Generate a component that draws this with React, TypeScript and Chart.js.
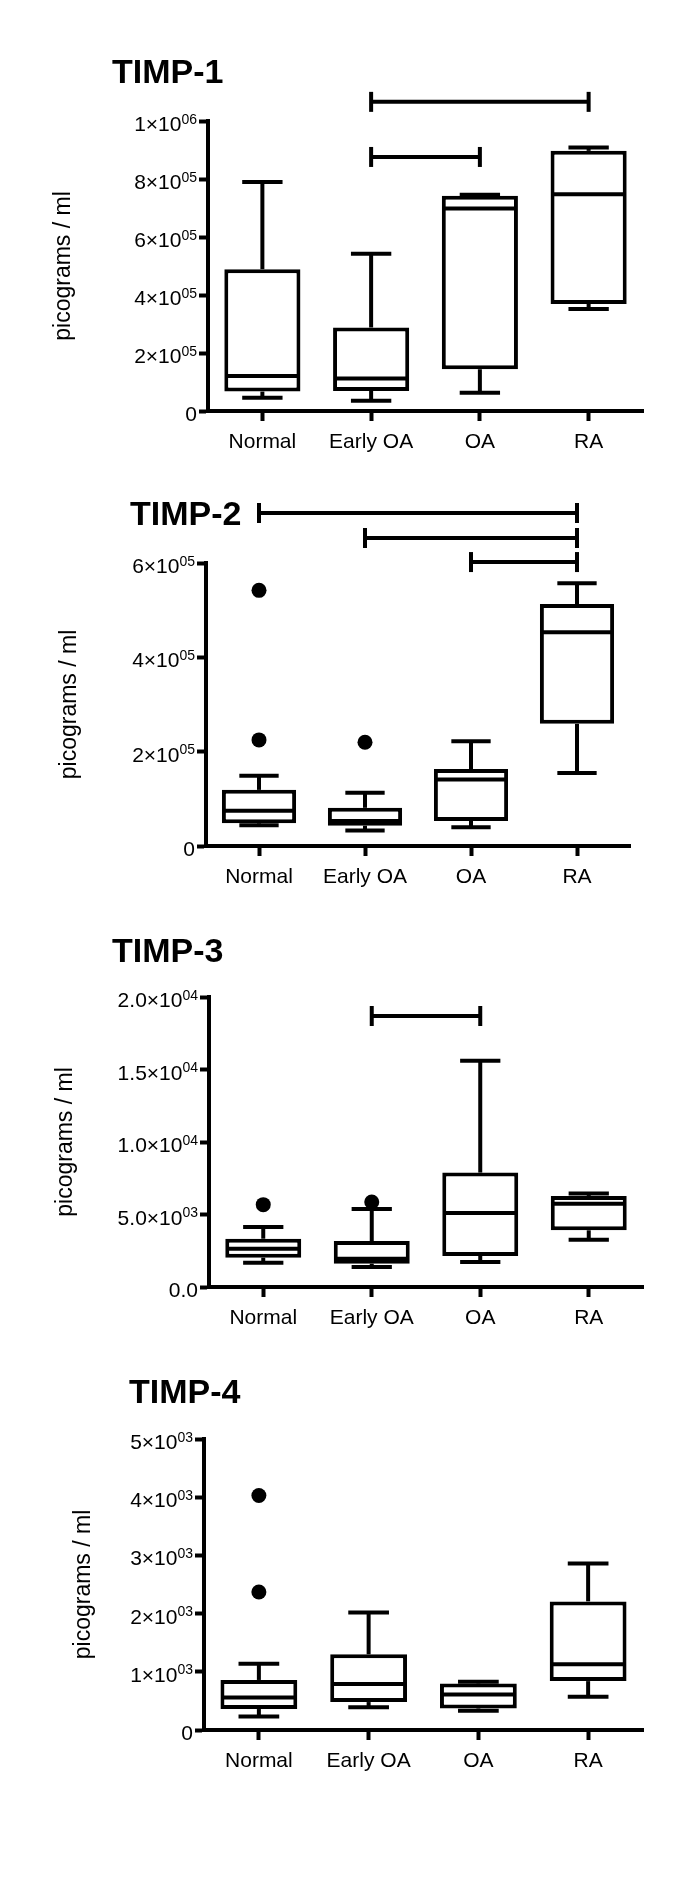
import React, { useEffect, useRef } from 'react';
import { Chart, registerables } from 'chart.js';

Chart.register(...registerables);

const FONT = '"Liberation Sans", Arial, Helvetica, sans-serif';

const CATEGORIES = ['Normal', 'Early OA', 'OA', 'RA'];
const Y_TITLE = 'picograms / ml';

// TIMP-1
const TIMP1_MIN = [0.46e5, 0.35e5, 0.63e5, 3.52e5];
const TIMP1_Q1 = [0.67e5, 0.69e5, 1.44e5, 3.69e5];
const TIMP1_MEDIAN = [1.21e5, 1.12e5, 6.98e5, 7.47e5];
const TIMP1_Q3 = [4.89e5, 2.88e5, 7.42e5, 8.97e5];
const TIMP1_MAX = [7.9e5, 5.42e5, 7.46e5, 9.09e5];
const TIMP1_OUTLIERS: { x: string; y: number }[] = [];
const TIMP1_BRACKETS = [
  { from: 1, to: 3, value: 1.066e6 },
  { from: 1, to: 2, value: 0.876e6 },
];
const TIMP1_TICKS = ['0', '2×10^05', '4×10^05', '6×10^05', '8×10^05', '1×10^06'];

// TIMP-2
const TIMP2_MIN = [0.44e5, 0.33e5, 0.4e5, 1.55e5];
const TIMP2_Q1 = [0.48e5, 0.43e5, 0.53e5, 2.59e5];
const TIMP2_MEDIAN = [0.75e5, 0.53e5, 1.41e5, 4.53e5];
const TIMP2_Q3 = [1.19e5, 0.81e5, 1.63e5, 5.13e5];
const TIMP2_MAX = [1.49e5, 1.13e5, 2.22e5, 5.57e5];
const TIMP2_OUTLIERS = [
  { x: 'Normal', y: 5.42e5 },
  { x: 'Normal', y: 2.25e5 },
  { x: 'Early OA', y: 2.2e5 },
];
const TIMP2_BRACKETS = [
  { from: 0, to: 3, value: 7.06e5 },
  { from: 1, to: 3, value: 6.53e5 },
  { from: 2, to: 3, value: 6.02e5 },
];
const TIMP2_TICKS = ['0', '2×10^05', '4×10^05', '6×10^05'];

// TIMP-3
const TIMP3_MIN = [1.68e3, 1.38e3, 1.72e3, 3.26e3];
const TIMP3_Q1 = [2.02e3, 1.61e3, 2.14e3, 3.91e3];
const TIMP3_MEDIAN = [2.64e3, 1.95e3, 5.1e3, 5.75e3];
const TIMP3_Q3 = [3.33e3, 3.17e3, 7.89e3, 6.28e3];
const TIMP3_MAX = [4.14e3, 5.38e3, 15.6e3, 6.44e3];
const TIMP3_OUTLIERS = [
  { x: 'Normal', y: 5.68e3 },
  { x: 'Early OA', y: 5.86e3 },
];
const TIMP3_BRACKETS = [{ from: 1, to: 2, value: 1.869e4 }];
const TIMP3_TICKS = ['0.0', '5.0×10^03', '1.0×10^04', '1.5×10^04', '2.0×10^04'];

// TIMP-4
const TIMP4_MIN = [0.23e3, 0.39e3, 0.33e3, 0.57e3];
const TIMP4_Q1 = [0.36e3, 0.48e3, 0.37e3, 0.84e3];
const TIMP4_MEDIAN = [0.56e3, 0.79e3, 0.61e3, 1.13e3];
const TIMP4_Q3 = [0.86e3, 1.3e3, 0.8e3, 2.21e3];
const TIMP4_MAX = [1.14e3, 2.02e3, 0.83e3, 2.86e3];
const TIMP4_OUTLIERS = [
  { x: 'Normal', y: 4.03e3 },
  { x: 'Normal', y: 2.37e3 },
];
const TIMP4_BRACKETS: { from: number; to: number; value: number }[] = [];
const TIMP4_TICKS = ['0', '1×10^03', '2×10^03', '3×10^03', '4×10^03', '5×10^03'];

type Layout = {
  canvasTop: number;
  canvasHeight: number;
  axisTop: number;
  axisBottom: number;
  axisLeft: number;
  axisRight: number;
  titleX: number;
  titleBaseline: number;
  yTitleX: number;
};

type Spec = {
  title: string;
  min: number[];
  q1: number[];
  median: number[];
  q3: number[];
  max: number[];
  outliers: { x: string; y: number }[];
  brackets: { from: number; to: number; value: number }[];
  ticks: string[];
  step: number;
  yMax: number;
  layout: Layout;
};

const PANELS: Spec[] = [
  {
    title: 'TIMP-1',
    min: TIMP1_MIN, q1: TIMP1_Q1, median: TIMP1_MEDIAN, q3: TIMP1_Q3, max: TIMP1_MAX,
    outliers: TIMP1_OUTLIERS, brackets: TIMP1_BRACKETS, ticks: TIMP1_TICKS,
    step: 2e5, yMax: 1e6,
    layout: { canvasTop: 0, canvasHeight: 470, axisTop: 121, axisBottom: 411, axisLeft: 208, axisRight: 643, titleX: 112, titleBaseline: 83, yTitleX: 64 },
  },
  {
    title: 'TIMP-2',
    min: TIMP2_MIN, q1: TIMP2_Q1, median: TIMP2_MEDIAN, q3: TIMP2_Q3, max: TIMP2_MAX,
    outliers: TIMP2_OUTLIERS, brackets: TIMP2_BRACKETS, ticks: TIMP2_TICKS,
    step: 2e5, yMax: 6e5,
    layout: { canvasTop: 470, canvasHeight: 435, axisTop: 563, axisBottom: 846, axisLeft: 206, axisRight: 630, titleX: 130, titleBaseline: 525, yTitleX: 70 },
  },
  {
    title: 'TIMP-3',
    min: TIMP3_MIN, q1: TIMP3_Q1, median: TIMP3_MEDIAN, q3: TIMP3_Q3, max: TIMP3_MAX,
    outliers: TIMP3_OUTLIERS, brackets: TIMP3_BRACKETS, ticks: TIMP3_TICKS,
    step: 5e3, yMax: 2e4,
    layout: { canvasTop: 905, canvasHeight: 445, axisTop: 997, axisBottom: 1287, axisLeft: 209, axisRight: 643, titleX: 112, titleBaseline: 962, yTitleX: 66 },
  },
  {
    title: 'TIMP-4',
    min: TIMP4_MIN, q1: TIMP4_Q1, median: TIMP4_MEDIAN, q3: TIMP4_Q3, max: TIMP4_MAX,
    outliers: TIMP4_OUTLIERS, brackets: TIMP4_BRACKETS, ticks: TIMP4_TICKS,
    step: 1e3, yMax: 5e3,
    layout: { canvasTop: 1350, canvasHeight: 536, axisTop: 1439, axisBottom: 1730, axisLeft: 204, axisRight: 643, titleX: 129, titleBaseline: 1403, yTitleX: 84 },
  },
];

const LINE = 4;
const CAP_RATIO = 0.53;
const BRACKET_HALF = 10;
const Y_TICK_LEN = 9;
const Y_TICK_PAD = 2;
const MAIN_TICK_FONT = 21;
const EXP_TICK_FONT = 14;

function makePlugin(spec: Spec) {
  return {
    id: 'boxWhiskers',
    afterDatasetsDraw(chart: any) {
      const ctx = chart.ctx as CanvasRenderingContext2D;
      const xs = chart.scales.x;
      const ys = chart.scales.y;
      const meta = chart.getDatasetMeta(0);
      const seg = (x1: number, y1: number, x2: number, y2: number) => {
        ctx.beginPath();
        ctx.moveTo(x1, y1);
        ctx.lineTo(x2, y2);
        ctx.stroke();
      };
      ctx.save();
      ctx.strokeStyle = '#000';
      ctx.lineWidth = LINE;
      ctx.lineCap = 'butt';
      meta.data.forEach((bar: any, i: number) => {
        const cx = bar.x;
        const w = bar.width;
        const cap = w * CAP_RATIO;
        const yMin = ys.getPixelForValue(spec.min[i]);
        const yQ1 = ys.getPixelForValue(spec.q1[i]);
        const yMed = ys.getPixelForValue(spec.median[i]);
        const yQ3 = ys.getPixelForValue(spec.q3[i]);
        const yMax = ys.getPixelForValue(spec.max[i]);
        seg(cx, yQ3, cx, yMax);
        seg(cx - cap / 2, yMax, cx + cap / 2, yMax);
        seg(cx, yQ1, cx, yMin);
        seg(cx - cap / 2, yMin, cx + cap / 2, yMin);
        seg(cx - w / 2 + 1, yMed, cx + w / 2 - 1, yMed);
      });
      spec.brackets.forEach((b) => {
        const x1 = xs.getPixelForValue(b.from);
        const x2 = xs.getPixelForValue(b.to);
        const yy = ys.getPixelForValue(b.value);
        seg(x1, yy, x2, yy);
        seg(x1, yy - BRACKET_HALF, x1, yy + BRACKET_HALF);
        seg(x2, yy - BRACKET_HALF, x2, yy + BRACKET_HALF);
      });
      const L = spec.layout;
      ctx.fillStyle = '#000';
      // panel title
      ctx.font = `bold 34px ${FONT}`;
      ctx.textAlign = 'left';
      ctx.textBaseline = 'alphabetic';
      ctx.fillText(spec.title, L.titleX, L.titleBaseline - L.canvasTop);
      // y tick labels with superscript exponents
      const right = chart.chartArea.left - Y_TICK_LEN - Y_TICK_PAD;
      ys.ticks.forEach((t: any) => {
        const idx = Math.round(t.value / spec.step);
        const label = spec.ticks[idx];
        if (label === undefined) return;
        const [mant, exp] = label.split('^');
        const py = ys.getPixelForValue(t.value);
        const base = py + 10;
        ctx.font = `${MAIN_TICK_FONT}px ${FONT}`;
        const wm = ctx.measureText(mant).width;
        let we = 0;
        if (exp) {
          ctx.font = `${EXP_TICK_FONT}px ${FONT}`;
          we = ctx.measureText(exp).width;
        }
        const x0 = right - wm - we;
        ctx.font = `${MAIN_TICK_FONT}px ${FONT}`;
        ctx.fillText(mant, x0, base);
        if (exp) {
          ctx.font = `${EXP_TICK_FONT}px ${FONT}`;
          ctx.fillText(exp, x0 + wm, base - 7.5);
        }
      });
      ctx.restore();
    },
  };
}

function Panel({ spec }: { spec: Spec }) {
  const ref = useRef<HTMLCanvasElement | null>(null);
  useEffect(() => {
    const canvas = ref.current;
    if (!canvas) return;
    const L = spec.layout;
    const localTop = L.axisTop - L.canvasTop;
    const localBottom = L.axisBottom - L.canvasTop;
    const chart = new Chart(canvas, {
      type: 'bar',
      data: {
        labels: CATEGORIES,
        datasets: [
          {
            type: 'bar',
            data: CATEGORIES.map((_, i) => [spec.q1[i], spec.q3[i]]) as any,
            backgroundColor: '#ffffff',
            borderColor: '#000000',
            borderWidth: LINE,
            borderSkipped: false,
            barPercentage: 0.7,
            categoryPercentage: 1,
          },
          {
            type: 'line',
            data: spec.outliers as any,
            showLine: false,
            pointRadius: 7.5,
            pointHoverRadius: 7.5,
            pointBackgroundColor: '#000',
            pointBorderWidth: 0,
            borderColor: '#000',
          } as any,
        ],
      },
      options: {
        animation: false,
        responsive: false,
        devicePixelRatio: 1,
        events: [],
        layout: {
          padding: { top: localTop, left: 0, right: 685 - L.axisRight, bottom: 0 },
        },
        plugins: {
          legend: { display: false },
          tooltip: { enabled: false },
          title: { display: false },
        },
        scales: {
          x: {
            type: 'category',
            offset: true,
            grid: {
              offset: false,
              drawOnChartArea: false,
              drawTicks: true,
              tickLength: 10,
              tickWidth: LINE,
              tickColor: '#000',
            },
            border: { display: true, color: '#000', width: 4 },
            ticks: {
              font: { family: FONT, size: 21 },
              color: '#000',
              padding: 9,
              maxRotation: 0,
              autoSkip: false,
            },
            afterFit: (s: any) => {
              s.height = L.canvasHeight - localBottom;
            },
          },
          y: {
            min: 0,
            max: spec.yMax,
            ticks: {
              stepSize: spec.step,
              display: false,
            },
            grid: {
              drawOnChartArea: false,
              drawTicks: true,
              tickLength: Y_TICK_LEN,
              tickWidth: LINE,
              tickColor: '#000',
            },
            border: { display: true, color: '#000', width: 4 },
            title: {
              display: true,
              text: Y_TITLE,
              color: '#000',
              font: { family: FONT, size: 23 },
              padding: { top: L.yTitleX - 13.8, bottom: 0 },
            },
            afterFit: (s: any) => {
              s.width = L.axisLeft;
            },
          },
        },
      } as any,
      plugins: [makePlugin(spec)],
    });
    return () => chart.destroy();
  }, [spec]);
  const L = spec.layout;
  return (
    <canvas
      ref={ref}
      width={685}
      height={L.canvasHeight}
      style={{ position: 'absolute', left: 0, top: L.canvasTop, width: 685, height: L.canvasHeight, display: 'block' }}
    />
  );
}

export default function App() {
  return (
    <div style={{ position: 'absolute', left: 0, top: 0, width: 685, height: 1886, background: '#ffffff' }}>
      {PANELS.map((p) => (
        <Panel key={p.title} spec={p} />
      ))}
    </div>
  );
}
